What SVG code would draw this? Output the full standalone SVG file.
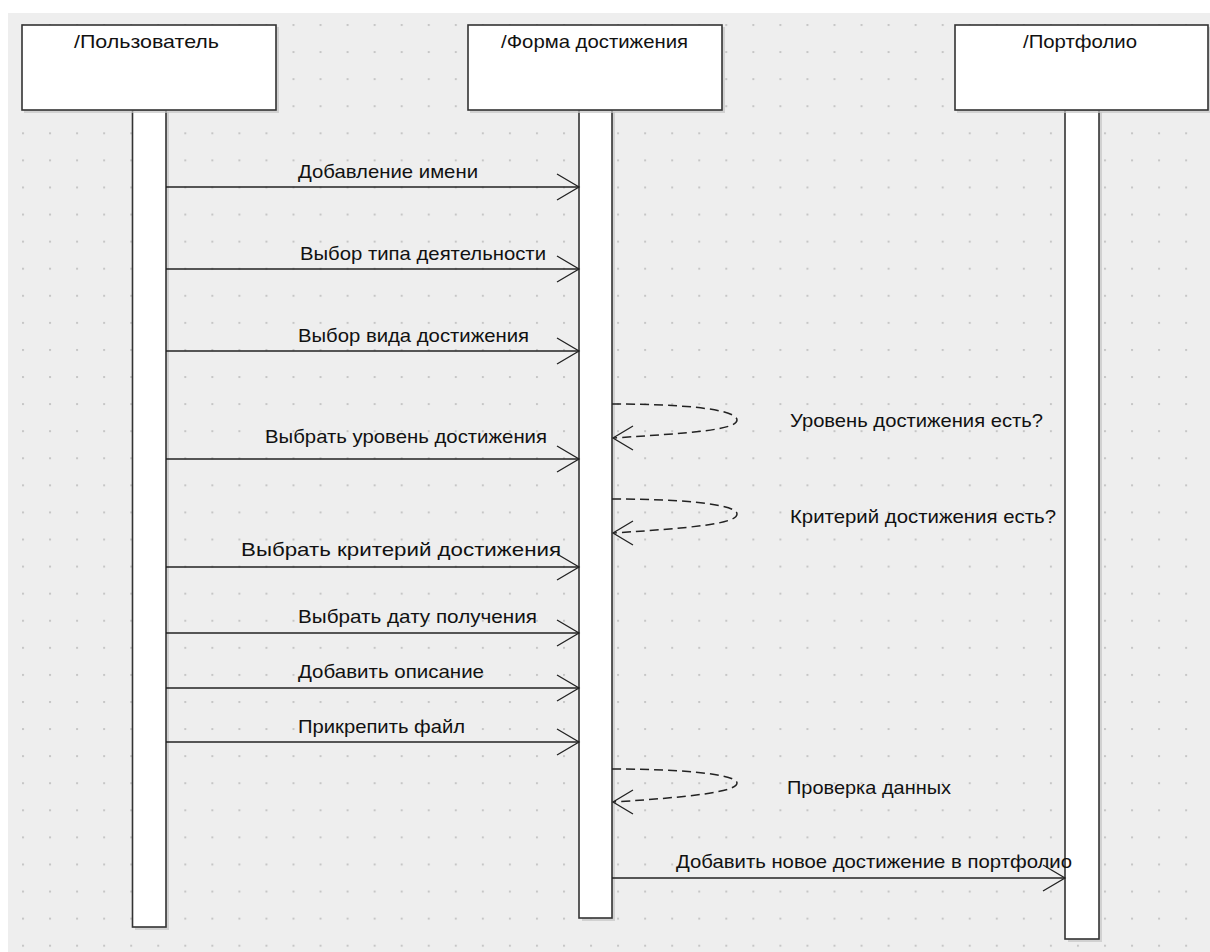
<svg xmlns="http://www.w3.org/2000/svg" width="1210" height="952" viewBox="0 0 1210 952">
<style>
.bg{fill:#eeeeee}
.box{fill:#ffffff;stroke:#333333;stroke-width:1.6}
.shadow{fill:#c4c4c4;opacity:0.7}
.life{fill:#ffffff;stroke:#333333;stroke-width:1.6}
.msg{fill:none;stroke:#222222;stroke-width:1.5}
.head{fill:none;stroke:#222222;stroke-width:1.3}
.loop{fill:none;stroke:#222222;stroke-width:1.5;stroke-dasharray:9 5}
text{font-family:"Liberation Sans",Arial,sans-serif;font-size:19px;fill:#111111}
</style>
<defs>
<pattern id="dots" x="22" y="24" width="27.05" height="27.08" patternUnits="userSpaceOnUse">
<rect x="0" y="0" width="2" height="2" fill="#c6c6c6"/>
</pattern>
</defs>
<rect x="0" y="0" width="1210" height="952" fill="#ffffff"/>
<rect class="bg" x="8" y="13" width="1202" height="939"/>
<rect x="8" y="13" width="1202" height="939" fill="url(#dots)"/>

<g id="node-user">
<rect class="shadow" x="135" y="112" width="34" height="818"/>
<rect class="life" x="132.5" y="110" width="33.5" height="817"/>
<rect class="shadow" x="24" y="27" width="255" height="86"/>
<rect class="box" x="22" y="25" width="254" height="85"/>
<text x="74" y="48" textLength="145" lengthAdjust="spacingAndGlyphs">/Пользователь</text>
</g>

<g id="node-form">
<rect class="shadow" x="582" y="112" width="33" height="809"/>
<rect class="life" x="579" y="110" width="33" height="808"/>
<rect class="shadow" x="470" y="27" width="255" height="86"/>
<rect class="box" x="468" y="25" width="254" height="85"/>
<text x="501" y="48" textLength="187" lengthAdjust="spacingAndGlyphs">/Форма достижения</text>
</g>

<g id="node-portfolio">
<rect class="shadow" x="1068" y="112" width="34" height="830"/>
<rect class="life" x="1065" y="110" width="34" height="829"/>
<rect class="shadow" x="957" y="27" width="253" height="86"/>
<rect class="box" x="955" y="25" width="253" height="85"/>
<text x="1023" y="48" textLength="114" lengthAdjust="spacingAndGlyphs">/Портфолио</text>
</g>

<g id="connectors">
<line class="msg" x1="166" y1="187" x2="579" y2="187"/>
<polyline class="head" points="557,174 579,187 557,200"/>
<text x="298" y="178" textLength="180" lengthAdjust="spacingAndGlyphs">Добавление имени</text>

<line class="msg" x1="166" y1="269" x2="579" y2="269"/>
<polyline class="head" points="557,256 579,269 557,282"/>
<text x="300" y="260" textLength="246" lengthAdjust="spacingAndGlyphs">Выбор типа деятельности</text>

<line class="msg" x1="166" y1="351" x2="579" y2="351"/>
<polyline class="head" points="557,338 579,351 557,364"/>
<text x="298" y="342" textLength="231" lengthAdjust="spacingAndGlyphs">Выбор вида достижения</text>

<path class="loop" d="M612,404 C690,404 737,410 737,420 C737,430 690,433 614,438"/>
<polyline class="head" points="633,426 613,438 633,450"/>
<text x="790" y="427" textLength="253" lengthAdjust="spacingAndGlyphs">Уровень достижения есть?</text>

<line class="msg" x1="166" y1="459" x2="579" y2="459"/>
<polyline class="head" points="557,446 579,459 557,472"/>
<text x="265" y="443" textLength="282" lengthAdjust="spacingAndGlyphs">Выбрать уровень достижения</text>

<path class="loop" d="M612,499 C690,499 737,505 737,514 C737,524 690,528 614,533"/>
<polyline class="head" points="633,521 613,533 633,545"/>
<text x="790" y="523" textLength="266" lengthAdjust="spacingAndGlyphs">Критерий достижения есть?</text>

<line class="msg" x1="166" y1="567" x2="579" y2="567"/>
<polyline class="head" points="557,554 579,567 557,580"/>
<text x="241" y="556" textLength="320" lengthAdjust="spacingAndGlyphs">Выбрать критерий достижения</text>

<line class="msg" x1="166" y1="633" x2="579" y2="633"/>
<polyline class="head" points="557,620 579,633 557,646"/>
<text x="298" y="623" textLength="239" lengthAdjust="spacingAndGlyphs">Выбрать дату получения</text>

<line class="msg" x1="166" y1="688" x2="579" y2="688"/>
<polyline class="head" points="557,675 579,688 557,701"/>
<text x="298" y="678" textLength="186" lengthAdjust="spacingAndGlyphs">Добавить описание</text>

<line class="msg" x1="166" y1="742" x2="579" y2="742"/>
<polyline class="head" points="557,729 579,742 557,755"/>
<text x="298" y="733" textLength="167" lengthAdjust="spacingAndGlyphs">Прикрепить файл</text>

<path class="loop" d="M612,769 C690,769 737,775 737,783 C737,792 690,797 614,802"/>
<polyline class="head" points="633,790 613,802 633,814"/>
<text x="787" y="794" textLength="164" lengthAdjust="spacingAndGlyphs">Проверка данных</text>

<line class="msg" x1="612" y1="878" x2="1065" y2="878"/>
<polyline class="head" points="1043,865 1065,878 1043,891"/>
<text x="676" y="868" textLength="396" lengthAdjust="spacingAndGlyphs">Добавить новое достижение в портфолио</text>
</g>
</svg>
